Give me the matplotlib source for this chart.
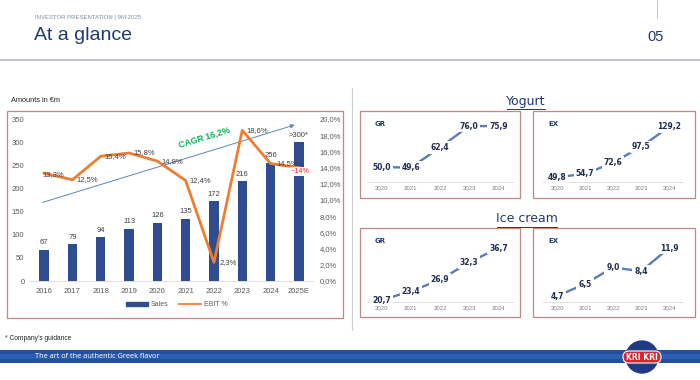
import matplotlib
matplotlib.use('Agg')
import matplotlib.pyplot as plt
import numpy as np
from matplotlib.patches import Rectangle, Circle, FancyBboxPatch
from matplotlib.lines import Line2D
from matplotlib.ticker import FuncFormatter

# ---- data ----
years = ['2016', '2017', '2018', '2019', '2020', '2021', '2022', '2023', '2024', '2025E']
sales = [67, 79, 94, 113, 126, 135, 172, 216, 256, 300]
sales_labels = ['67', '79', '94', '113', '126', '135', '172', '216', '256', '>300*']
ebit_pct = [13.3, 12.5, 15.4, 15.8, 14.8, 12.4, 2.3, 18.6, 14.5, 14.0]
ebit_labels = ['13,3%', '12,5%', '15,4%', '15,8%', '14,8%', '12,4%', '2,3%', '18,6%', '14,5%', '~14%']
cagr_label = 'CAGR 16,2%'
trend_from = 168   # sales axis value where the trend arrow starts
trend_to = 339     # and where it ends

small_years = ['2020', '2021', '2022', '2023', '2024']
yogurt_gr = [50.0, 49.6, 62.4, 76.0, 75.9]
yogurt_ex = [49.8, 54.7, 72.6, 97.5, 129.2]
ice_gr = [20.7, 23.4, 26.9, 32.3, 36.7]
ice_ex = [4.7, 6.5, 9.0, 8.4, 11.9]

W, H = 700, 380
NAVY = '#1f3a6b'
BAR = '#2f4d8e'
ORANGE = '#ed7d31'
BOX = '#c48686'
GRAY = '#595959'


def rect(x0, y0, x1, y1):
    # pixel box (top-left origin) -> figure fraction
    return [x0 / W, 1 - y1 / H, (x1 - x0) / W, (y1 - y0) / H]


def fx(x):
    return x / W


def fy(y):
    return 1 - y / H


def comma(v):
    return f'{v:.1f}'.replace('.', ',')


fig = plt.figure(figsize=(7, 3.8), dpi=100)
plt.rcParams['font.family'] = ['Liberation Sans', 'DejaVu Sans']

# ---- header ----
fig.text(fx(35), fy(18), 'INVESTOR PRESENTATION | 9M.2025', fontsize=4.3, color='#7f8fa6', va='center')
fig.text(fx(34), fy(36), 'At a glance', fontsize=14, color=NAVY, va='center')
fig.text(fx(656), fy(37), '05', fontsize=10.5, color=NAVY, va='center', ha='center')
fig.add_artist(Line2D([fx(657), fx(657)], [fy(0), fy(18)], color='#bfbfbf', lw=0.6))
fig.add_artist(Line2D([0, 1], [fy(60), fy(60)], color='#b4b9c0', lw=1.2))
fig.add_artist(Line2D([fx(352), fx(352)], [fy(88), fy(330)], color='#cfcfcf', lw=0.8))

# ---- main chart ----
fig.text(fx(11), fy(101), 'Amounts in €m', fontsize=5.3, color='#222222', va='center')
fig.add_artist(Rectangle((fx(7), fy(318)), fx(343) - fx(7), fy(111) - fy(318),
                         transform=fig.transFigure, fill=False, ec=BOX, lw=0.9))

x = np.arange(len(years))
ax = fig.add_axes(rect(30, 119, 313, 281))
ax.bar(x, sales, width=0.33, color=BAR, zorder=2)
ax.set_xlim(-0.5, 9.5)
ax.set_ylim(0, 350)
ax.set_yticks(range(0, 351, 50))
ax.set_xticks(x)
ax.set_xticklabels(years)
for s in ['top', 'left', 'right']:
    ax.spines[s].set_visible(False)
ax.spines['bottom'].set_color('#d9d9d9')
ax.spines['bottom'].set_linewidth(0.6)
ax.tick_params(axis='y', length=0, labelsize=5.5, colors=GRAY, pad=4)
ax.tick_params(axis='x', length=0, labelsize=5.5, colors=GRAY, pad=5)
for i, (v, lbl) in enumerate(zip(sales, sales_labels)):
    ax.annotate(lbl, (i, v), xytext=(0, 7), textcoords='offset pixels',
                ha='center', va='center', fontsize=5.5, color='#404040', zorder=3)

ax.annotate('', xy=(8.95, trend_to), xytext=(-0.15, trend_from),
            arrowprops=dict(arrowstyle='-|>', color='#5b86b8', lw=0.7, mutation_scale=6))
ax.text(5.65, 311, cagr_label, rotation=17, color='#00b050', fontweight='bold',
        fontsize=6.3, ha='center', va='center', rotation_mode='anchor')

ax2 = ax.twinx()
ax2.plot(x, ebit_pct, color=ORANGE, lw=2, zorder=3)
ax2.set_ylim(0, 20)
ax2.set_yticks(range(0, 21, 2))
ax2.yaxis.set_major_formatter(FuncFormatter(lambda v, p: comma(v) + '%'))
for s in ['top', 'left', 'right', 'bottom']:
    ax2.spines[s].set_visible(False)
ax2.tick_params(axis='y', length=0, labelsize=5.5, colors=GRAY, pad=5)

offsets = [(9, -1), (15, 0), (15, 0), (15, 0), (15, 0), (15, 0), (14, 0), (15, 0), (17, 0), (1, -4)]
for i, (v, lbl) in enumerate(zip(ebit_pct, ebit_labels)):
    kw = dict(fontsize=5.5, color='#404040')
    if i == len(ebit_pct) - 1:
        kw = dict(fontsize=5.3, color='#ff2020',
                  bbox=dict(boxstyle='square,pad=0.1', fc='white', ec='none'))
    ax2.annotate(lbl, (i, v), xytext=offsets[i], textcoords='offset pixels',
                 ha='center', va='center', zorder=4, **kw)

handles = [Rectangle((0, 0), 1, 1, color=BAR), Line2D([], [], color=ORANGE, lw=1.3)]
fig.legend(handles, ['Sales', 'EBIT %'], loc='center', bbox_to_anchor=(fx(177), fy(305)),
           ncol=2, frameon=False, fontsize=5, labelcolor=GRAY, handlelength=3.2,
           handleheight=0.5, columnspacing=1.5, handletextpad=0.4)

# ---- small panels ----
fig.text(fx(526), fy(101), 'Yogurt', fontsize=9, color=NAVY, ha='center', va='center',
         family='DejaVu Sans')
fig.add_artist(Line2D([fx(507), fx(545)], [fy(109), fy(109)], color=NAVY, lw=0.7))
fig.text(fx(527), fy(219), 'Ice cream', fontsize=9, color=NAVY, ha='center', va='center',
         family='DejaVu Sans')
fig.add_artist(Line2D([fx(497), fx(557)], [fy(226.5), fy(226.5)], color=NAVY, lw=0.7))

panels = [
    (yogurt_gr, 'GR', (360, 111, 520, 198), (367, 115, 513, 182), (40.5, 83)),
    (yogurt_ex, 'EX', (533, 111, 695, 198), (543, 115, 683, 182), (42, 148)),
    (ice_gr, 'GR', (360, 228, 520, 317), (367, 235, 513, 302), (20.1, 40.7)),
    (ice_ex, 'EX', (533, 228, 695, 317), (543, 235, 683, 302), (3.8, 13.85)),
]
for vals, name, box, area, lim in panels:
    bx0, by0, bx1, by1 = box
    fig.add_artist(Rectangle((fx(bx0), fy(by1)), fx(bx1) - fx(bx0), fy(by0) - fy(by1),
                             transform=fig.transFigure, fill=False, ec=BOX, lw=0.9))
    fig.text(fx(bx0 + 15), fy(by0 + 13), name, fontsize=5, fontweight='bold', color=NAVY,
             va='center', family='DejaVu Sans')
    sa = fig.add_axes(rect(*area))
    sx = np.arange(len(small_years))
    sa.plot(sx, vals, color='#5b7db1', lw=1.7, solid_capstyle='butt')
    for i, v in enumerate(vals):
        sa.text(i, v, comma(v), ha='center', va='center', fontsize=5.5, fontweight='bold',
                color='#1f2d50', family='DejaVu Sans',
                bbox=dict(boxstyle='square,pad=0.25', fc='white', ec='none'))
    sa.set_xlim(-0.5, 4.5)
    sa.set_ylim(*lim)
    sa.set_yticks([])
    sa.set_xticks(sx)
    sa.set_xticklabels(small_years)
    for s in ['top', 'left', 'right']:
        sa.spines[s].set_visible(False)
    sa.spines['bottom'].set_color('#d9d9d9')
    sa.spines['bottom'].set_linewidth(0.6)
    sa.tick_params(axis='x', length=0, labelsize=4.3, colors='#7f7f7f', pad=3)
    sa.patch.set_alpha(0)

# ---- footer ----
fig.text(fx(5), fy(338), "* Company's guidance", fontsize=4.8, color='#222222', va='center')
fig.add_artist(Rectangle((0, fy(363)), 1, fy(350) - fy(363), transform=fig.transFigure,
                         color='#21509f', lw=0, zorder=-2))
fig.add_artist(Rectangle((0, fy(359)), 1, fy(354) - fy(359), transform=fig.transFigure,
                         color='#2a5cb0', lw=0, zorder=-2))
fig.text(fx(35), fy(357), 'The art of the authentic Greek flavor', fontsize=5.3, color='white',
         va='center', family='Open Sans')

logo = fig.add_axes(rect(620, 340, 664, 374))
logo.set_zorder(5)
logo.set_xlim(0, 44)
logo.set_ylim(0, 34)
logo.axis('off')
logo.add_patch(Circle((22, 17), 16, color='#1d3c84'))
logo.add_patch(FancyBboxPatch((3, 11), 38, 12, boxstyle='round,pad=0,rounding_size=6',
                              fc='#d7262c', ec='white', lw=0.8))
logo.text(22, 17, 'KRI KRI', color='white', fontsize=5.5, fontweight='bold', ha='center',
          va='center', family='DejaVu Sans')

fig.savefig('out.png', dpi=100)
